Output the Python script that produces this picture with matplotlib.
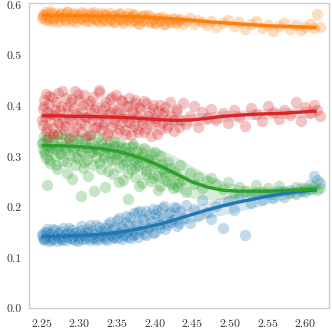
import numpy as np
from matplotlib import pyplot as plt

plt.rcParams['font.family'] = ['cmr10', 'DejaVu Serif']
plt.rcParams['axes.formatter.use_mathtext'] = True

# shared x for all runs
x_runs = [2.251, 2.252, 2.253, 2.254, 2.255, 2.256, 2.257, 2.258, 2.260, 2.261,
          2.263, 2.265, 2.267, 2.268, 2.270, 2.272, 2.274, 2.276, 2.278, 2.280,
          2.282, 2.284, 2.286, 2.288, 2.290, 2.292, 2.294, 2.296, 2.298, 2.300,
          2.302, 2.304, 2.306, 2.308, 2.310, 2.312, 2.314, 2.316, 2.318, 2.320,
          2.322, 2.324, 2.326, 2.328, 2.330, 2.332, 2.334, 2.336, 2.338, 2.340,
          2.342, 2.344, 2.346, 2.348, 2.350, 2.352, 2.354, 2.356, 2.358, 2.360,
          2.362, 2.364, 2.366, 2.368, 2.370, 2.372, 2.374, 2.376, 2.378, 2.380,
          2.383, 2.386, 2.389, 2.392, 2.395, 2.398, 2.401, 2.404, 2.407, 2.410,
          2.414, 2.418, 2.422, 2.426, 2.430, 2.434, 2.438, 2.442, 2.447, 2.452,
          2.458, 2.463, 2.469, 2.475, 2.482, 2.490, 2.497, 2.505, 2.512, 2.520,
          2.528, 2.535, 2.543, 2.550, 2.557, 2.565, 2.572, 2.580, 2.587, 2.594,
          2.600, 2.606, 2.611, 2.616, 2.620]

y_blue = [.140, .148, .136, .152, .143, .139, .157, .145, .134, .150,
          .141, .137, .155, .146, .133, .149, .142, .138, .160, .144,
          .135, .151, .147, .139, .156, .143, .136, .152, .145, .140,
          .163, .137, .149, .144, .158, .141, .135, .153, .147, .139,
          .166, .143, .137, .155, .148, .141, .159, .136, .150, .172,
          .144, .139, .162, .147, .140, .178, .151, .137, .158, .145,
          .183, .142, .165, .139, .154, .188, .147, .170, .141, .193,
          .158, .176, .146, .185, .163, .197, .152, .180, .168, .199,
          .157, .187, .172, .201, .163, .192, .178, .205, .170, .196,
          .183, .214, .190, .176, .203, .160, .212, .195, .221, .145,
          .208, .228, .214, .226, .218, .232, .221, .235, .227, .239,
          .230, .245, .262, .255, .248]

y_orange = [.580, .576, .583, .572, .586, .579, .570, .582, .575, .588,
            .577, .568, .584, .574, .581, .578, .571, .585, .576, .582,
            .569, .587, .574, .580, .572, .584, .577, .566, .581, .575,
            .586, .573, .579, .570, .583, .576, .568, .585, .574, .580,
            .571, .582, .567, .578, .584, .573, .580, .569, .577, .585,
            .572, .579, .566, .581, .574, .570, .583, .576, .568, .579,
            .572, .584, .575, .566, .578, .570, .581, .573, .565, .577,
            .569, .580, .572, .566, .576, .570, .564, .575, .568, .573,
            .563, .571, .566, .574, .567, .572, .562, .569, .574, .563,
            .570, .566, .560, .568, .557, .564, .571, .559, .566, .553,
            .562, .568, .555, .561, .549, .558, .564, .553, .560, .550,
            .557, .563, .554, .582, .557]

y_green = [.330, .318, .342, .305, .298, .335, .245, .322, .312, .287,
           .339, .326, .301, .315, .276, .344, .308, .330, .292, .319,
           .337, .268, .323, .303, .341, .314, .283, .327, .296, .333,
           .222, .310, .290, .336, .318, .262, .307, .329, .284, .321,
           .299, .339, .312, .275, .326, .304, .241, .318, .291, .332,
           .308, .265, .322, .296, .313, .280, .327, .302, .255, .318,
           .289, .216, .309, .275, .322, .294, .261, .312, .283, .300,
           .248, .317, .271, .293, .306, .258, .288, .235, .302, .276,
           .262, .290, .247, .269, .240, .283, .255, .230, .268, .246,
           .260, .238, .252, .258, .247, .236, .251, .228, .240, .233,
           .226, .245, .231, .238, .227, .242, .233, .229, .240, .232,
           .238, .236, .243, .234, .239]

y_red = [.395, .362, .412, .378, .351, .425, .388, .340, .404, .370,
         .418, .357, .392, .383, .346, .427, .365, .401, .374, .353,
         .416, .386, .338, .409, .368, .396, .430, .359, .381, .412,
         .349, .390, .423, .362, .378, .405, .344, .387, .419, .356,
         .398, .371, .433, .352, .393, .366, .408, .341, .384, .415,
         .358, .397, .375, .422, .347, .389, .364, .410, .382, .353,
         .400, .369, .417, .343, .391, .360, .406, .378, .349, .395,
         .366, .411, .357, .388, .342, .402, .371, .390, .355, .384,
         .398, .362, .380, .351, .394, .373, .406, .365, .381, .400,
         .358, .389, .376, .395, .372, .387, .366, .392, .378, .360,
         .396, .384, .370, .401, .388, .375, .393, .382, .409, .371,
         .398, .386, .403, .392, .380]

# second batch of runs in the crowded low-x region
x_runs2 = [2.2505, 2.2535, 2.2565, 2.2595, 2.2625, 2.2655, 2.2685, 2.2715, 2.2745, 2.2775,
           2.2805, 2.2835, 2.2865, 2.2895, 2.2925, 2.2955, 2.2985, 2.3015, 2.3045, 2.3075,
           2.3105, 2.3135, 2.3165, 2.3195, 2.3225, 2.3255, 2.3285, 2.3315, 2.3345, 2.3375,
           2.3405, 2.3435, 2.3465, 2.3495, 2.3525, 2.3555, 2.3585, 2.3615, 2.3645, 2.3675,
           2.3705, 2.3735, 2.3765, 2.3795, 2.3825, 2.3855, 2.3885, 2.3915, 2.3945, 2.3975,
           2.4005, 2.4035, 2.4065, 2.4095, 2.4125, 2.4165, 2.4205, 2.4245, 2.4285, 2.4325]
y_blue2 = [.146, .138, .151, .142, .136, .158, .144, .139, .153, .135,
           .148, .141, .159, .137, .150, .143, .134, .156, .145, .138,
           .152, .165, .140, .147, .136, .161, .143, .153, .138, .168,
           .146, .157, .141, .175, .149, .163, .143, .171, .152, .181,
           .145, .165, .190, .154, .177, .148, .192, .160, .173, .150,
           .186, .195, .159, .178, .203, .166, .190, .176, .198, .170]
y_orange2 = [.574, .581, .577, .570, .584, .573, .579, .567, .583, .576,
             .571, .586, .578, .569, .582, .575, .580, .572, .585, .577,
             .568, .581, .574, .586, .570, .579, .575, .568, .583, .576,
             .571, .580, .567, .577, .585, .572, .565, .579, .570, .576,
             .582, .568, .575, .563, .578, .569, .574, .581, .567, .572,
             .565, .574, .568, .576, .562, .572, .567, .573, .565, .570]
y_green2 = [.327, .309, .336, .294, .318, .340, .283, .321, .305, .345,
            .312, .290, .334, .256, .317, .300, .338, .311, .278, .325,
            .294, .343, .309, .233, .316, .287, .331, .298, .320, .271,
            .315, .293, .329, .306, .250, .317, .286, .309, .268, .302,
            .325, .279, .297, .242, .310, .286, .265, .298, .252, .281,
            .309, .262, .243, .285, .270, .252, .277, .238, .263, .249]
y_red2 = [.372, .401, .356, .420, .384, .345, .408, .367, .392, .431,
          .361, .398, .375, .414, .350, .387, .424, .366, .403, .379,
          .341, .410, .373, .395, .358, .428, .382, .363, .401, .348,
          .389, .419, .369, .392, .355, .412, .377, .346, .401, .366,
          .386, .413, .355, .398, .372, .349, .407, .381, .362, .395,
          .376, .346, .403, .367, .388, .357, .409, .372, .390, .359]

# fitted trend, with band half widths
x_fit = [2.25, 2.27, 2.29, 2.31, 2.33, 2.35, 2.37, 2.39, 2.41, 2.43,
         2.45, 2.47, 2.49, 2.51, 2.53, 2.55, 2.57, 2.59, 2.61, 2.615]
fit_blue = [.143, .143, .144, .145, .147, .150, .155, .161, .168, .177,
            .186, .195, .203, .210, .216, .222, .227, .231, .234, .235]
band_blue = [.004, .004, .004, .004, .005, .005, .006, .008, .010, .013,
             .015, .017, .018, .018, .017, .015, .012, .010, .008, .007]
fit_orange = [.580, .580, .579, .579, .578, .578, .577, .576, .574, .572,
              .570, .567, .565, .563, .561, .559, .558, .557, .556, .556]
band_orange = [.003, .003, .003, .003, .003, .003, .003, .004, .004, .005,
               .005, .005, .005, .005, .005, .005, .005, .005, .005, .005]
fit_green = [.322, .322, .321, .319, .316, .311, .303, .293, .280, .265,
             .250, .240, .234, .232, .232, .232, .233, .234, .236, .236]
band_green = [.008, .008, .008, .010, .012, .020, .027, .031, .034, .034,
              .032, .025, .018, .013, .010, .009, .008, .008, .008, .008]
fit_red = [.381, .381, .380, .380, .379, .378, .377, .375, .373, .372,
           .373, .376, .380, .382, .384, .385, .386, .388, .390, .390]
band_red = [.006, .006, .006, .006, .006, .006, .007, .008, .009, .011,
            .012, .012, .011, .010, .010, .010, .010, .011, .012, .012]

series = [
    (y_blue, y_blue2, fit_blue, band_blue, '#1f77b4'),
    (y_orange, y_orange2, fit_orange, band_orange, '#ff7f0e'),
    (y_green, y_green2, fit_green, band_green, '#2ca02c'),
    (y_red, y_red2, fit_red, band_red, '#d62728'),
]

fig = plt.figure(figsize=(3.32, 3.32), dpi=100)
ax = fig.add_axes([0.0873, 0.0708, 0.905, 0.920])

xs = x_runs + x_runs2
for ys, ys2, fit, band, col in series:
    ax.scatter(xs, ys + ys2, s=68, color=col, alpha=0.27,
               edgecolors='white', linewidths=0.4, zorder=2)
    fit = np.array(fit)
    band = np.array(band)
    ax.fill_between(x_fit, fit - band, fit + band, color=col, alpha=0.18,
                    lw=0, zorder=3)
    ax.plot(x_fit, fit, color=col, lw=2.4, zorder=4, solid_capstyle='butt')

ax.set_xlim(2.233, 2.632)
ax.set_ylim(0, 0.604)
ax.set_xticks([2.25, 2.30, 2.35, 2.40, 2.45, 2.50, 2.55, 2.60])
ax.set_xticklabels(['2.25', '2.30', '2.35', '2.40', '2.45', '2.50', '2.55', '2.60'])
ax.set_yticks([0.0, 0.1, 0.2, 0.3, 0.4, 0.5, 0.6])
ax.set_yticklabels(['0.0', '0.1', '0.2', '0.3', '0.4', '0.5', '0.6'])
ax.tick_params(axis='both', length=0, labelsize=8.5, colors='#333333')
ax.tick_params(axis='x', pad=8)
ax.tick_params(axis='y', pad=5)
for sp in ax.spines.values():
    sp.set_color('#cccccc')
    sp.set_linewidth(1.0)

fig.savefig('out.png', dpi=100)
